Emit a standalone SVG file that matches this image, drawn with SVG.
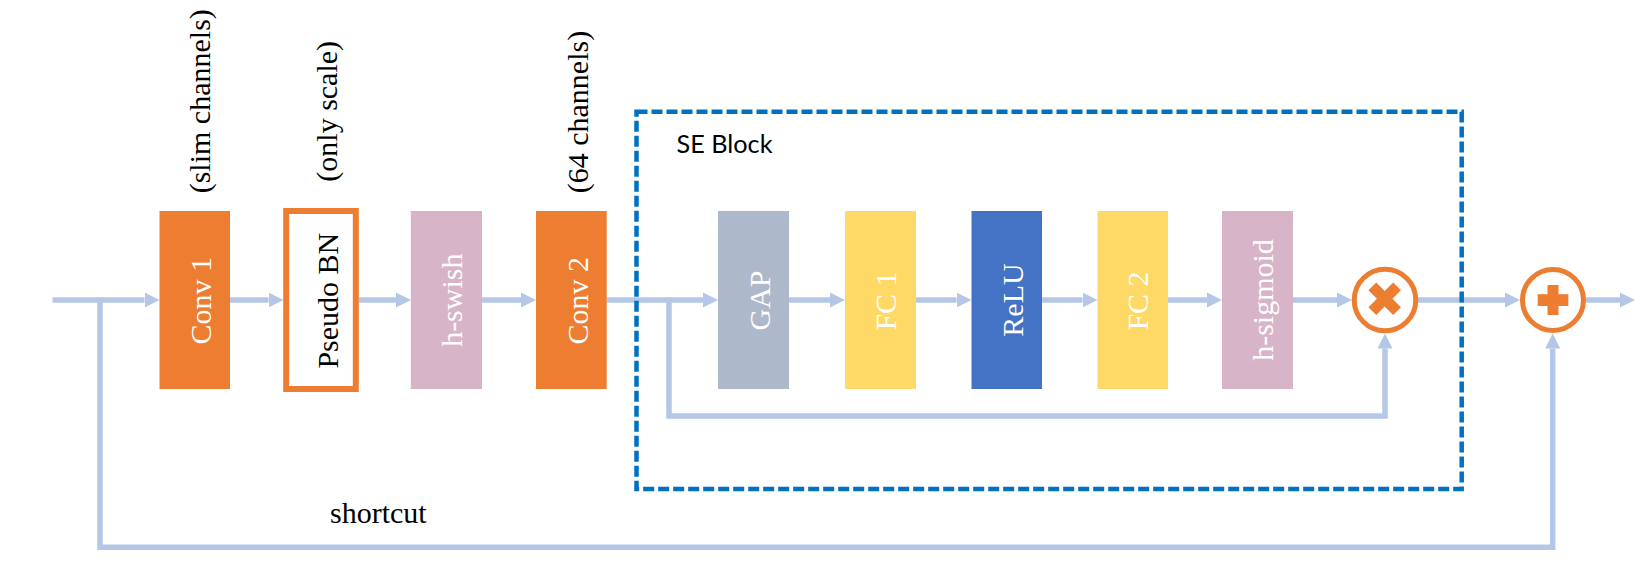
<svg xmlns="http://www.w3.org/2000/svg" width="1645" height="565" viewBox="0 0 1645 565">
<defs>
<marker id="ah" markerUnits="userSpaceOnUse" markerWidth="16" markerHeight="16" refX="0" refY="7.5" orient="auto" viewBox="0 0 16 15">
<path d="M0,0 L15,7.5 L0,15 Z" fill="#B4C7E7"/>
</marker>
<style>
.conn{fill:none;stroke:#B4C7E7;stroke-width:5.5}
.lbl{font-family:"Liberation Serif","Times New Roman",serif;font-size:30px;text-anchor:middle}
.top{font-family:"Liberation Serif","Times New Roman",serif;font-size:30px;fill:#000}
.w{fill:#FFFFFF}
.orange{fill:#ED7D31}
</style>
</defs>
<rect width="1645" height="565" fill="#FFFFFF"/>

<g id="connectors">
<path class="conn" d="M52.5,300 H144.5" marker-end="url(#ah)"/>
<path class="conn" d="M100,297.5 V547.3 H1552.7 V348.5" marker-end="url(#ah)"/>
<path class="conn" d="M229.7,300 H268.5" marker-end="url(#ah)"/>
<path class="conn" d="M358.6,300 H396" marker-end="url(#ah)"/>
<path class="conn" d="M482,300 H521" marker-end="url(#ah)"/>
<path class="conn" d="M606.7,300 H703" marker-end="url(#ah)"/>
<path class="conn" d="M669,297.5 V416 H1385 V348.5" marker-end="url(#ah)"/>
<path class="conn" d="M789,300 H830" marker-end="url(#ah)"/>
<path class="conn" d="M916,300 H956.5" marker-end="url(#ah)"/>
<path class="conn" d="M1042,300 H1082.5" marker-end="url(#ah)"/>
<path class="conn" d="M1168,300 H1207" marker-end="url(#ah)"/>
<path class="conn" d="M1293,300 H1337" marker-end="url(#ah)"/>
<path class="conn" d="M1418,300 H1505" marker-end="url(#ah)"/>
<path class="conn" d="M1586,300 H1620" marker-end="url(#ah)"/>
</g>

<g id="se-block">
<rect x="636.5" y="111.7" width="825.2" height="377.3" fill="none" stroke="#0070C0" stroke-width="4.5" stroke-dasharray="11 4"/>
<text x="676.5" y="153.3" font-family="Lato,'Liberation Sans',sans-serif" font-size="25" textLength="96" lengthAdjust="spacingAndGlyphs" fill="#000">SE Block</text>
</g>

<g id="conv1">
<rect x="159.5" y="211" width="70.5" height="178" class="orange"/>
<text class="lbl w" transform="translate(211,300.7) rotate(-90)">Conv 1</text>
<text class="top" transform="translate(210.4,193.3) rotate(-90)">(slim channels)</text>
</g>

<g id="pseudo-bn">
<rect x="286.2" y="211" width="69.6" height="178" fill="#FFFFFF" stroke="#ED7D31" stroke-width="6"/>
<text class="lbl" fill="#000" transform="translate(338,300.7) rotate(-90)">Pseudo BN</text>
<text class="top" transform="translate(337,181.7) rotate(-90)">(only scale)</text>
</g>

<g id="h-swish">
<rect x="410.8" y="211" width="71.2" height="178" fill="#D7B4C8"/>
<text class="lbl w" transform="translate(462,300.2) rotate(-90)">h-swish</text>
</g>

<g id="conv2">
<rect x="536" y="211" width="70.7" height="178" class="orange"/>
<text class="lbl w" transform="translate(588,300.7) rotate(-90)">Conv 2</text>
<text class="top" transform="translate(588,193.3) rotate(-90)">(64 channels)</text>
</g>

<g id="gap">
<rect x="718" y="211" width="71" height="178" fill="#ADB9CA"/>
<text class="lbl w" transform="translate(769.5,300.5) rotate(-90)">GAP</text>
</g>

<g id="fc1">
<rect x="845" y="211" width="71" height="178" fill="#FFD966"/>
<text class="lbl w" transform="translate(896,301) rotate(-90)">FC 1</text>
</g>

<g id="relu">
<rect x="971.5" y="211" width="70.5" height="178" fill="#4472C4"/>
<text class="lbl w" transform="translate(1022.5,300) rotate(-90)">ReLU</text>
</g>

<g id="fc2">
<rect x="1097.5" y="211" width="70.5" height="178" fill="#FFD966"/>
<text class="lbl w" transform="translate(1148,301) rotate(-90)">FC 2</text>
</g>

<g id="h-sigmoid">
<rect x="1222" y="211" width="71" height="178" fill="#D7B4C8"/>
<text class="lbl w" transform="translate(1273.3,300) rotate(-90)">h-sigmoid</text>
</g>

<g id="multiply">
<circle cx="1385" cy="300" r="30.8" fill="#FFFFFF" stroke="#ED7D31" stroke-width="5"/>
<g transform="translate(1384.7,298.7)">
<rect x="-17.5" y="-5.5" width="35" height="11" class="orange" transform="rotate(45)"/>
<rect x="-17.5" y="-5.5" width="35" height="11" class="orange" transform="rotate(-45)"/>
</g>
</g>

<g id="add">
<circle cx="1553" cy="300" r="30.5" fill="#FFFFFF" stroke="#ED7D31" stroke-width="5"/>
<rect x="1537.7" y="294.2" width="30.6" height="11.8" class="orange"/>
<rect x="1547.5" y="285" width="11" height="30" class="orange"/>
</g>

<g id="shortcut-label">
<text class="top" x="330" y="523.3">shortcut</text>
</g>
</svg>
